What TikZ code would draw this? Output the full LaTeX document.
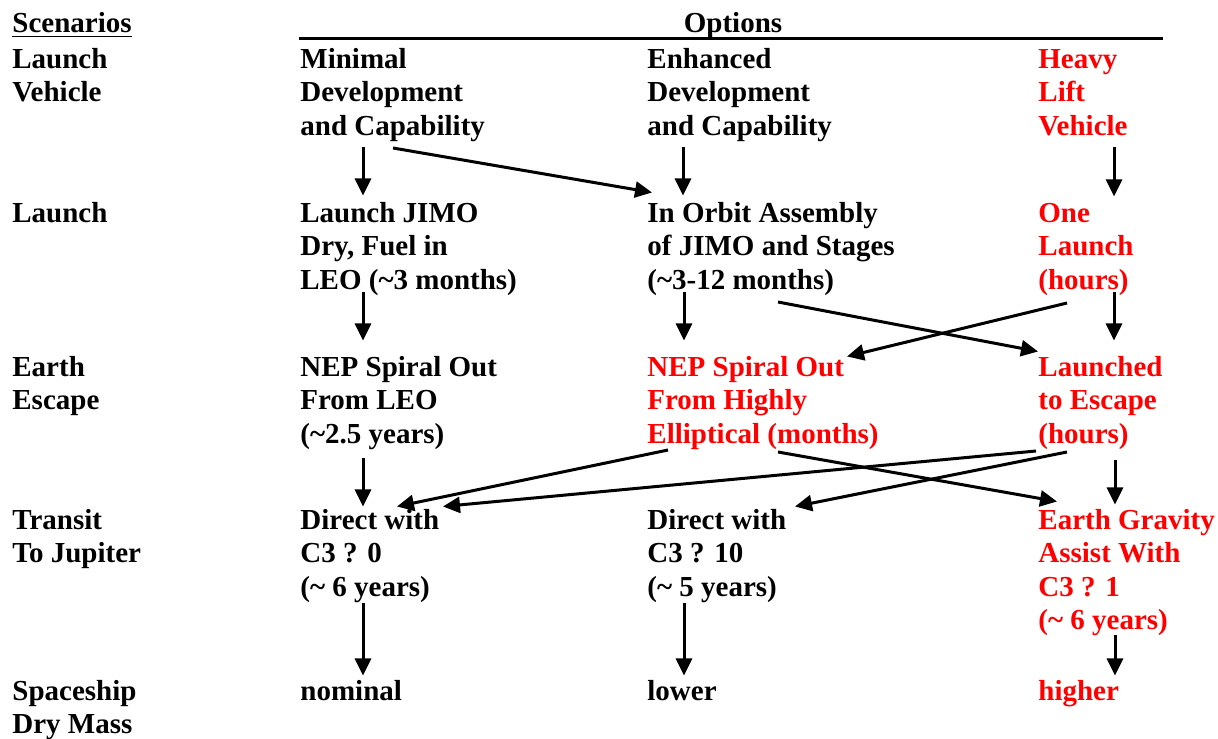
\documentclass[tikz,border=0pt]{standalone}
\usepackage{fontspec}
\setmainfont{Liberation Serif}
\usetikzlibrary{arrows.meta}
\definecolor{optRed}{RGB}{255, 0, 0}

\tikzset{
  txt/.style={anchor=base west, inner sep=0pt, align=left,
    font=\fontsize{14.5}{16.75}\selectfont\bfseries},
  pick/.style={txt, text=optRed},
  arr/.style={line width=1.5pt, -{Triangle[length=8.5pt,width=8pt]}}
}

\begin{document}
\begin{tikzpicture}[x=0.5pt, y=-0.5pt]
      \useasboundingbox (0,0) rectangle (1218,738);

      % Header (nodes sit on the baseline of their last line)
      \node[txt] (scen) at (12,33) {\underline{Scenarios}};
      \node[txt, anchor=base] (opts) at (733,33) {Options};
      \draw[line width=1.4pt] (299,38.5) -- (1163,38.5);

      % Scenario labels
      \node[txt] (rLV) at (12,101.5) {Launch\\Vehicle};
      \node[txt] (rLa) at (12,222) {Launch};
      \node[txt] (rEE) at (12,409.5) {Earth\\Escape};
      \node[txt] (rTJ) at (12,562.5) {Transit\\To Jupiter};
      \node[txt] (rDM) at (12,733.5) {Spaceship\\Dry Mass};

      % Launch vehicle options
      \node[txt] (mdc) at (300,135) {Minimal\\Development\\and Capability};
      \node[txt] (edc) at (647,135) {Enhanced\\Development\\and Capability};
      \node[pick] (hlv) at (1038,135) {Heavy\\Lift\\Vehicle};

      % Launch options
      \node[txt] (ljd) at (300,289) {Launch JIMO\\Dry, Fuel in\\LEO (\textasciitilde3 months)};
      \node[txt] (ioa) at (647,289) {In Orbit Assembly\\of JIMO and Stages\\(\textasciitilde3-12 months)};
      \node[pick] (one) at (1038,289) {One\\Launch\\(hours)};

      % Earth escape options
      \node[txt] (nsl) at (300,443) {NEP Spiral Out\\From LEO\\(\textasciitilde2.5 years)};
      \node[pick] (nse) at (647,443) {NEP Spiral Out\\From Highly\\Elliptical (months)};
      \node[pick] (lte) at (1038,443) {Launched\\to Escape\\(hours)};

      % Transit options
      \node[txt] (dc0) at (300,596) {Direct with\\C3 ? 0\\(\textasciitilde{} 6 years)};
      \node[txt] (dc10) at (647,596) {Direct with\\C3 ? 10\\(\textasciitilde{} 5 years)};
      \node[pick] (ega) at (1038,629.5) {Earth Gravity\\Assist With\\C3 ? 1\\(\textasciitilde{} 6 years)};

      % Dry mass
      \node[txt] (nom) at (300,700) {nominal};
      \node[txt] (low) at (647,700) {lower};
      \node[pick] (hig) at (1038,700) {higher};

      % Vehicle -> launch
      \draw[arr] ([shift={(63,12)}]mdc.base west) -- ([shift={(63,-6)}]ljd.north west);
      \draw[arr] ([shift={(93,13)}]mdc.base west) -- ([shift={(5,-9)}]ioa.north west);
      \draw[arr] ([shift={(36,12)}]edc.base west) -- ([shift={(36,-6)}]ioa.north west);
      \draw[arr] ([shift={(76,12)}]hlv.base west) -- ([shift={(76,-6)}]one.north west);

      % Launch -> escape
      \draw[arr] ([shift={(63,3)}]ljd.base west) -- ([shift={(63,-15)}]nsl.north west);
      \draw[arr] ([shift={(37,3)}]ioa.base west) -- ([shift={(37,-15)}]nse.north west);
      \draw[arr] ([shift={(76,3)}]one.base west) -- ([shift={(76,-15)}]lte.north west);
      \draw[arr] ([shift={(131,13)}]ioa.base west) -- ([shift={(0,-4)}]lte.north west);
      \draw[arr] ([shift={(29,14)}]one.base west) -- ([shift={(200,1)}]nse.north west);

      % Escape -> transit
      \draw[arr] ([shift={(63,15)}]nsl.base west) -- ([shift={(63,-2)}]dc0.north west);
      \draw[arr] ([shift={(21,7)}]nse.base west) -- ([shift={(97,-2)}]dc0.north west);
      \draw[arr] ([shift={(-2,8)}]lte.base west) -- ([shift={(143,-2)}]dc0.north west);
      \draw[arr] ([shift={(29,9)}]lte.base west) -- ([shift={(148,-2)}]dc10.north west);
      \draw[arr] ([shift={(131,9)}]nse.base west) -- ([shift={(19,-7)}]ega.north west);
      \draw[arr] ([shift={(77,17)}]lte.base west) -- ([shift={(77,-4)}]ega.north west);

      % Transit -> dry mass
      \draw[arr] ([shift={(63,7)}]dc0.base west) -- ([shift={(63,-4)}]nom.north west);
      \draw[arr] ([shift={(37,7)}]dc10.base west) -- ([shift={(37,-4)}]low.north west);
      \draw[arr] ([shift={(77,5.5)}]ega.base west) -- ([shift={(77,-4)}]hig.north west);
    \end{tikzpicture}
\end{document}
